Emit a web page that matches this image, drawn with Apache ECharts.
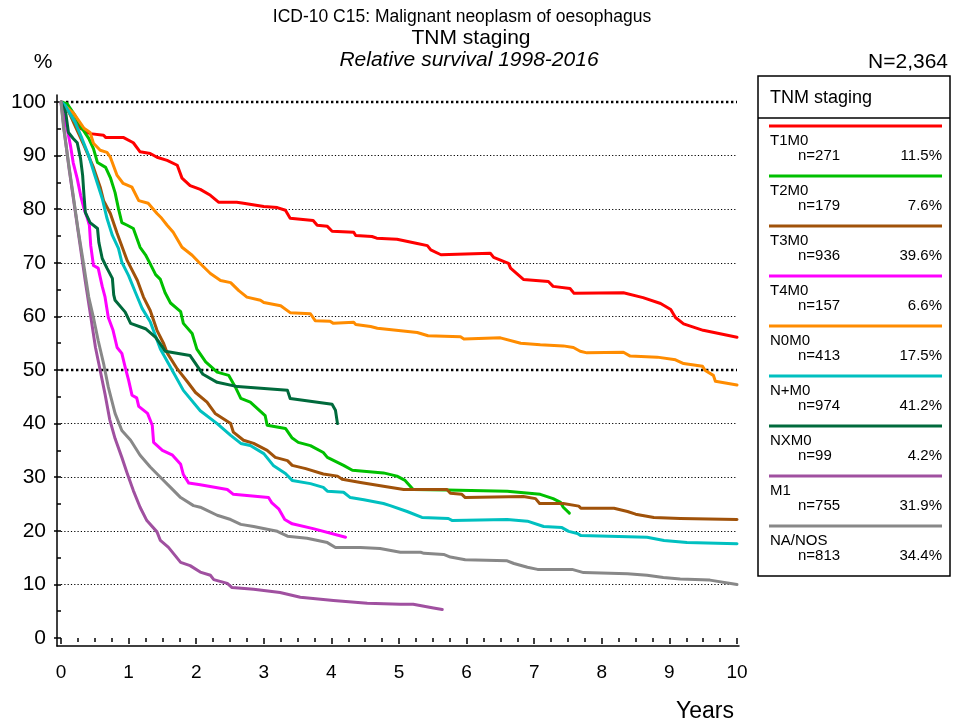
<!DOCTYPE html>
<html><head><meta charset="utf-8">
<script src="https://cdn.jsdelivr.net/npm/echarts@6/dist/echarts.min.js"></script>
<style>html,body{margin:0;padding:0;background:#fff}#c{width:953px;height:726px}</style>
</head><body><div id="c"></div>
<script>
// ---- data ----
const seriesNames = ['T1M0','T2M0','T3M0','T4M0','N0M0','N+M0','NXM0','M1','NA/NOS'];
const seriesCounts = [271,179,936,157,413,974,99,755,813];
const seriesShares = ['11.5%','7.6%','39.6%','6.6%','17.5%','41.2%','4.2%','31.9%','34.4%'];
const yearTicks = [0,1,2,3,4,5,6,7,8,9,10];
const percentTicks = [0,10,20,30,40,50,60,70,80,90,100];

const t1m0 = [[0,100],[0.1,98.5],[0.2,96.5],[0.3,95.0],[0.43,94.1],[0.63,93.8],[0.66,93.4],[0.92,93.4],[1.07,92.4],[1.17,90.7],[1.32,90.4],[1.42,89.7],[1.57,89.1],[1.72,88.2],[1.79,85.8],[1.91,84.4],[2.06,83.7],[2.21,82.6],[2.33,81.3],[2.60,81.3],[2.70,81.1],[3.0,80.5],[3.2,80.3],[3.32,79.8],[3.39,78.3],[3.73,77.9],[3.79,77.0],[3.94,76.8],[4.01,75.9],[4.33,75.7],[4.36,75.1],[4.60,74.9],[4.67,74.6],[4.97,74.4],[5.27,73.6],[5.42,73.2],[5.47,72.4],[5.62,71.5],[6.35,71.8],[6.40,71.0],[6.62,69.9],[6.65,69.0],[6.84,66.9],[7.21,66.5],[7.28,65.6],[7.53,65.2],[7.59,64.3],[8.32,64.4],[8.61,63.5],[8.87,62.4],[9.02,61.3],[9.09,59.8],[9.21,58.6],[9.50,57.4],[10,56.1]];
const t2m0 = [[0,100],[0.09,99.7],[0.21,97.4],[0.31,95.1],[0.41,93.2],[0.48,91.3],[0.54,88.7],[0.66,87.8],[0.73,85.9],[0.80,83.1],[0.85,80.1],[0.90,77.5],[0.98,77.0],[1.07,76.4],[1.17,72.9],[1.25,71.5],[1.32,69.8],[1.40,67.8],[1.47,66.9],[1.54,64.4],[1.62,62.5],[1.77,60.9],[1.81,58.7],[1.94,56.8],[2.01,53.9],[2.14,51.5],[2.31,49.6],[2.48,49.0],[2.58,46.8],[2.66,44.7],[2.80,44.0],[3.02,41.5],[3.05,39.7],[3.32,39.1],[3.42,37.3],[3.51,36.5],[3.69,35.9],[3.88,34.6],[3.94,33.7],[4.18,32.2],[4.31,31.3],[4.77,30.8],[4.97,30.2],[5.09,29.4],[5.21,27.7],[5.71,27.6],[6.6,27.4],[7.09,26.8],[7.28,26.0],[7.39,25.3],[7.43,24.4],[7.52,23.3]];
const t3m0 = [[0,100],[0.1,98.6],[0.2,95.8],[0.34,91.9],[0.48,87.8],[0.58,84.1],[0.63,81.6],[0.73,79.2],[0.83,75.5],[0.98,70.4],[1.13,66.7],[1.22,63.6],[1.32,61.1],[1.42,57.4],[1.52,54.9],[1.57,53.2],[1.72,50.2],[1.87,47.8],[1.99,45.8],[2.16,44.0],[2.28,41.9],[2.51,40.0],[2.55,38.4],[2.70,36.9],[2.85,36.3],[3.05,35.0],[3.17,33.7],[3.35,33.1],[3.42,32.2],[3.62,31.6],[3.88,30.6],[4.09,30.2],[4.16,29.6],[4.43,29.0],[4.77,28.3],[5.07,27.7],[5.71,27.7],[5.76,27.0],[5.93,26.8],[5.98,26.2],[6.84,26.4],[7.02,26.0],[7.08,25.1],[7.43,25.1],[7.66,24.6],[7.69,24.2],[8.18,24.2],[8.38,23.6],[8.5,23.1],[8.77,22.5],[9.16,22.3],[10,22.1]];
const t4m0 = [[0,100],[0.04,97.5],[0.09,95.1],[0.14,91.9],[0.18,88.7],[0.24,85.7],[0.29,82.6],[0.34,80.1],[0.39,78.3],[0.42,77.0],[0.44,73.2],[0.48,69.5],[0.55,69.0],[0.61,65.6],[0.65,63.7],[0.70,59.8],[0.77,57.4],[0.83,54.2],[0.90,53.1],[0.95,50.5],[1.0,48.1],[1.05,45.3],[1.12,44.8],[1.15,43.2],[1.28,41.9],[1.35,39.7],[1.37,36.5],[1.50,35.0],[1.65,34.1],[1.77,32.4],[1.81,30.5],[1.89,28.9],[2.06,28.6],[2.46,27.7],[2.55,26.8],[3.07,26.2],[3.12,25.2],[3.22,24.1],[3.31,22.1],[3.42,21.3],[3.73,20.4],[4.21,18.8]];
const n0m0 = [[0,100],[0.14,98.4],[0.18,98.0],[0.29,96.0],[0.34,95.1],[0.43,94.3],[0.48,92.3],[0.58,91.0],[0.68,90.6],[0.73,89.7],[0.83,86.3],[0.92,84.8],[1.05,84.1],[1.15,81.6],[1.29,81.1],[1.42,79.2],[1.49,78.3],[1.57,77.0],[1.66,75.7],[1.79,72.9],[1.94,71.4],[2.04,70.1],[2.21,68.0],[2.36,66.7],[2.51,66.3],[2.63,64.8],[2.75,63.6],[2.95,63.0],[3.0,62.6],[3.25,62.0],[3.39,60.7],[3.69,60.5],[3.76,59.2],[3.98,59.1],[4.03,58.7],[4.33,58.9],[4.36,58.5],[4.58,58.1],[4.68,57.8],[5.27,57.0],[5.43,56.4],[5.91,56.2],[5.96,55.8],[6.50,56.0],[6.80,55.0],[7.09,54.7],[7.43,54.5],[7.58,54.2],[7.68,53.5],[7.78,53.2],[8.32,53.3],[8.42,52.6],[8.82,52.4],[9.09,51.9],[9.21,51.2],[9.49,50.7],[9.53,49.9],[9.65,49.0],[9.68,47.9],[10,47.2]];
const npm0 = [[0,100],[0.06,99.4],[0.21,96.2],[0.31,93.2],[0.41,90.0],[0.50,86.3],[0.61,82.0],[0.68,78.3],[0.76,75.1],[0.85,72.7],[0.90,70.1],[1.0,67.6],[1.10,64.5],[1.20,61.5],[1.32,59.0],[1.47,53.9],[1.62,50.5],[1.81,46.2],[2.06,42.4],[2.31,40.0],[2.51,37.8],[2.66,36.3],[2.80,35.9],[3.0,34.4],[3.14,32.2],[3.32,30.7],[3.42,29.4],[3.69,28.8],[3.88,28.1],[3.94,27.4],[4.18,27.2],[4.28,26.2],[4.48,25.8],[4.77,25.1],[4.87,24.7],[5.12,23.6],[5.34,22.5],[5.73,22.3],[5.79,21.9],[6.6,22.1],[6.9,21.8],[7.14,20.8],[7.41,20.6],[7.51,19.9],[7.64,19.5],[7.69,19.1],[8.67,18.8],[8.92,18.2],[9.26,17.8],[10,17.6]];
const nxm0 = [[0,100],[0.07,98.0],[0.11,94.3],[0.18,93.2],[0.24,92.4],[0.29,89.4],[0.32,86.3],[0.34,82.6],[0.36,79.4],[0.43,77.5],[0.54,76.4],[0.56,73.8],[0.61,70.8],[0.68,69.0],[0.76,67.1],[0.78,64.0],[0.80,63.0],[0.95,60.8],[1.03,58.7],[1.25,57.7],[1.40,56.1],[1.50,54.3],[1.54,53.5],[1.91,52.7],[2.10,49.2],[2.31,47.7],[2.61,46.9],[3.35,46.2],[3.39,44.7],[4.01,43.6],[4.06,42.5],[4.09,40.0]];
const m1 = [[0,100],[0.05,94.5],[0.12,87.5],[0.2,80.5],[0.28,73.5],[0.36,66.5],[0.44,60.0],[0.51,54.2],[0.58,49.9],[0.65,45.6],[0.72,40.8],[0.80,37.2],[0.90,33.7],[0.98,30.7],[1.07,27.5],[1.17,24.4],[1.27,21.9],[1.42,19.8],[1.47,18.2],[1.59,16.9],[1.77,14.1],[1.91,13.5],[2.06,12.3],[2.21,11.7],[2.26,10.9],[2.46,10.2],[2.53,9.4],[2.85,9.1],[3.24,8.5],[3.54,7.6],[4.03,7.0],[4.53,6.5],[5.02,6.3],[5.21,6.3],[5.51,5.6],[5.64,5.3]];
const nanos = [[0,100],[0.04,95.0],[0.11,88.7],[0.18,82.6],[0.25,76.4],[0.33,70.1],[0.41,63.6],[0.48,59.8],[0.55,55.5],[0.63,51.2],[0.70,46.8],[0.80,41.9],[0.90,38.7],[1.03,36.9],[1.17,34.1],[1.32,31.9],[1.47,30.0],[1.62,28.1],[1.77,26.2],[1.96,24.7],[2.06,24.4],[2.16,23.8],[2.31,22.9],[2.51,22.1],[2.66,21.2],[2.85,20.8],[3.05,20.3],[3.2,19.9],[3.35,19.0],[3.64,18.6],[3.94,17.8],[4.06,16.9],[4.43,16.9],[4.72,16.7],[5.02,16.0],[5.32,16.0],[5.37,15.8],[5.66,15.6],[5.76,15.1],[5.98,14.6],[6.60,14.4],[6.70,13.9],[6.90,13.2],[7.05,12.8],[7.56,12.8],[7.73,12.2],[8.38,12.0],[8.67,11.7],[8.91,11.3],[9.16,11.0],[9.60,10.8],[10,10.0]];

const seriesData = [t1m0,t2m0,t3m0,t4m0,n0m0,npm0,nxm0,m1,nanos];

// ---- styles ----
const colors = ['#FF0000','#00C000','#A0520A','#FF00FF','#FF8C00','#00C0C0','#006A3C','#A050A0','#888888'];
const FONT = '"Liberation Sans", Arial, sans-serif';

const chart = echarts.init(document.getElementById('c'), null, {renderer:'canvas'});

const gridLines = percentTicks.filter(v => v > 0).map(v => {
  const heavy = (v === 50 || v === 100);
  return {yAxis: v, lineStyle: {color:'#000', width: heavy ? 2.4 : 1.2, type: heavy ? [2.4,2.6] : [1.2,2.1]}};
});

const lineSeries = seriesNames.map((name, i) => ({
  name, type:'line', xAxisIndex:0, yAxisIndex:0,
  data: seriesData[i], showSymbol:false, symbol:'none',
  lineStyle:{color:colors[i], width:3, join:'round', cap:'round'},
  itemStyle:{color:colors[i]}, z: 5 + i, animation:false
}));

// legend graphic
const LX = 758, LY = 76, LW = 192, LH = 500, ROW = 50, FIRST = 126;
const legendEls = [
  {type:'rect', shape:{x:LX, y:LY, width:LW, height:LH}, style:{fill:'#fff', stroke:'#000', lineWidth:1.5}},
  {type:'line', shape:{x1:LX, y1:118, x2:LX+LW, y2:118}, style:{stroke:'#000', lineWidth:1.5}},
  {type:'text', style:{text:'TNM staging', x:770, y:98, font:'18px '+FONT, fill:'#000', textVerticalAlign:'middle'}}
];
seriesNames.forEach((name, i) => {
  const y0 = FIRST + i*ROW;
  legendEls.push({type:'line', shape:{x1:769, y1:y0, x2:942, y2:y0}, style:{stroke:colors[i], lineWidth:3.2}});
  legendEls.push({type:'text', style:{text:name, x:770, y:y0+15, font:'15px '+FONT, fill:'#000', textVerticalAlign:'middle'}});
  legendEls.push({type:'text', style:{text:'n='+seriesCounts[i], x:798, y:y0+30, font:'15px '+FONT, fill:'#000', textVerticalAlign:'middle'}});
  legendEls.push({type:'text', style:{text:seriesShares[i], x:942, y:y0+30, font:'15px '+FONT, fill:'#000', textAlign:'right', textVerticalAlign:'middle'}});
});

const option = {
  backgroundColor:'#fff',
  animation:false,
  grid:[
    {left:61, top:102, width:676, height:536, containLabel:false},
    {left:57, top:95, width:682, height:551, containLabel:false}
  ],
  xAxis:[
    {type:'value', gridIndex:0, min:0, max:10, interval:1, offset:8,
     axisLine:{show:false}, splitLine:{show:false},
     axisTick:{show:true, length:6, lineStyle:{color:'#000', width:1.5}},
     minorTick:{show:true, splitNumber:4, length:4, lineStyle:{color:'#000', width:1.5}},
     axisLabel:{show:true, color:'#000', fontSize:19, fontFamily:FONT, margin:17}},
    {type:'value', gridIndex:1, min:0, max:1, show:true,
     axisLine:{show:true, onZero:false, lineStyle:{color:'#000', width:1.5}},
     axisTick:{show:false}, axisLabel:{show:false}, splitLine:{show:false}}
  ],
  yAxis:[
    {type:'value', gridIndex:0, min:0, max:100, interval:10, offset:4,
     axisLine:{show:false}, splitLine:{show:false},
     axisTick:{show:true, length:7, lineStyle:{color:'#000', width:1.5}},
     minorTick:{show:true, splitNumber:2, length:4, lineStyle:{color:'#000', width:1.5}},
     axisLabel:{show:true, color:'#000', fontSize:21, fontFamily:FONT, margin:11}},
    {type:'value', gridIndex:1, min:0, max:1, show:true,
     axisLine:{show:true, onZero:false, lineStyle:{color:'#000', width:1.5}},
     axisTick:{show:false}, axisLabel:{show:false}, splitLine:{show:false}}
  ],
  series:[
    {type:'line', name:'grid', xAxisIndex:0, yAxisIndex:0, data:[], z:1, silent:true,
     markLine:{silent:true, symbol:['none','none'], label:{show:false}, animation:false, data:gridLines}},
    ...lineSeries
  ],
  graphic:[
    {type:'text', style:{text:'ICD-10 C15: Malignant neoplasm of oesophagus', x:462, y:17, font:'17.5px '+FONT, fill:'#000', textAlign:'center', textVerticalAlign:'middle'}},
    {type:'text', style:{text:'TNM staging', x:471, y:38, font:'21px '+FONT, fill:'#000', textAlign:'center', textVerticalAlign:'middle'}},
    {type:'text', style:{text:'Relative survival 1998-2016', x:469, y:60, font:'italic 21px '+FONT, fill:'#000', textAlign:'center', textVerticalAlign:'middle'}},
    {type:'text', style:{text:'%', x:43, y:62, font:'21px '+FONT, fill:'#000', textAlign:'center', textVerticalAlign:'middle'}},
    {type:'text', style:{text:'N=2,364', x:948, y:62, font:'21px '+FONT, fill:'#000', textAlign:'right', textVerticalAlign:'middle'}},
    {type:'text', style:{text:'Years', x:734, y:712, font:'23px '+FONT, fill:'#000', textAlign:'right', textVerticalAlign:'middle'}},
    ...legendEls
  ]
};
chart.setOption(option);
</script></body></html>
